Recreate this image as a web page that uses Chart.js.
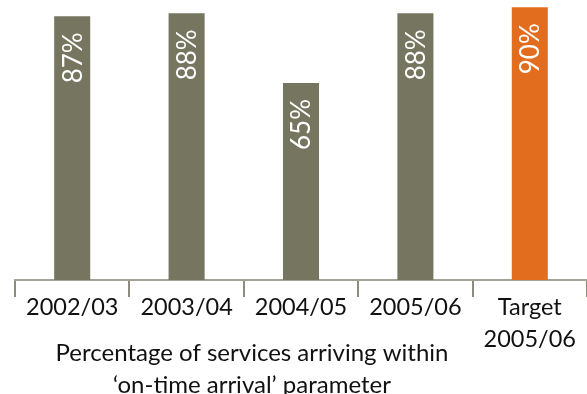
<!DOCTYPE html>
<html>
<head>
<meta charset="utf-8">
<script src="https://cdn.jsdelivr.net/npm/chart.js@4"></script>
<style>
  html, body { margin: 0; padding: 0; background: #fff; overflow: hidden; }
  #wrap { width: 587px; height: 394px; position: relative; }
</style>
</head>
<body>
<div id="wrap"><canvas id="arrivalChart"></canvas></div>
<script>
// ---------- DATA ----------
const years = ["2002/03", "2003/04", "2004/05", "2005/06", ["Target", "2005/06"]];
const onTime = [87, 88, 65, 88, 90];
const barColors = ["#767560", "#767560", "#767560", "#767560", "#e36d1f"];
const titleLines = ["Percentage of services arriving within", "\u2018on-time arrival\u2019 parameter"];

const FONT = "Lato, 'Open Sans', sans-serif";

// ---------- VALUE LABELS (rotated, inside the top of each bar) ----------
const barLabels = {
  id: "barLabels",
  afterDatasetsDraw(chart) {
    const ctx = chart.ctx;
    const meta = chart.getDatasetMeta(0);
    ctx.save();
    ctx.fillStyle = "#ffffff";
    ctx.font = "26px " + FONT;
    ctx.textAlign = "right";
    ctx.textBaseline = "middle";
    meta.data.forEach((bar, i) => {
      ctx.save();
      ctx.translate(bar.x, bar.y + 16);
      ctx.rotate(-Math.PI / 2);
      ctx.fillText(onTime[i] + "%", 0, 1);
      ctx.restore();
    });
    ctx.restore();
  }
};

// ---------- CAPTION UNDER THE AXIS ----------
const caption = {
  id: "caption",
  afterDraw(chart) {
    const ctx = chart.ctx;
    ctx.save();
    ctx.fillStyle = "#111111";
    ctx.font = "24px " + FONT;
    ctx.textAlign = "center";
    ctx.textBaseline = "alphabetic";
    ctx.fillText(titleLines[0], 252, 361);
    ctx.fillText(titleLines[1], 252, 393);
    ctx.restore();
  }
};

// ---------- CHART ----------
const ctx = document.getElementById("arrivalChart").getContext("2d");

new Chart(ctx, {
  type: "bar",
  data: {
    labels: years,
    datasets: [
      {
        label: "On-time arrival",
        data: onTime,
        backgroundColor: barColors,
        barPercentage: 0.315,
        categoryPercentage: 1,
      },
    ],
  },
  options: {
    responsive: true,
    maintainAspectRatio: false,
    animation: false,
    layout: { padding: { left: 15, right: 0, top: 0, bottom: 0 } },
    plugins: {
      legend: { display: false },
      tooltip: { enabled: false },
    },
    scales: {
      y: { display: false, min: 0, max: 92.4 },
      x: {
        afterFit: (scale) => { scale.height = 114; },
        border: { display: true, color: "#a3a293", width: 2 },
        grid: {
          offset: true,
          drawOnChartArea: false,
          drawTicks: true,
          tickLength: 17,
          color: "#8d8c7c",
          lineWidth: 2,
        },
        ticks: {
          color: "#111111",
          font: { family: FONT, size: 23.5, lineHeight: 1.36 },
          padding: -6,
          maxRotation: 0,
          autoSkip: false,
        },
      },
    },
  },
  plugins: [barLabels, caption],
});
</script>
</body>
</html>
